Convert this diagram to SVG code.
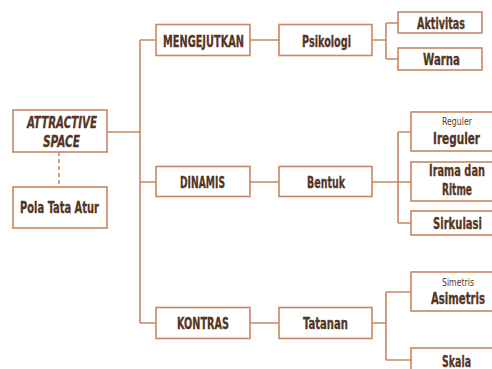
<svg xmlns="http://www.w3.org/2000/svg" width="492" height="369" viewBox="0 0 492 369">
<style>
.b{fill:#fff;stroke:#c98662;stroke-width:1.6}
.c{fill:none;stroke:#c98662;stroke-width:1.6}
.t{font-family:"Liberation Sans Narrow","DejaVu Sans Condensed","Liberation Sans",sans-serif;font-weight:bold;fill:#55351f;stroke:#55351f;stroke-width:0.3;text-anchor:middle;font-size:16.5px}
.s{font-size:10px;font-weight:normal;stroke-width:0}
.i{font-style:italic}
</style>
<rect width="492" height="369" fill="#fff"/>
<g id="connectors">
<path class="c" d="M107,132H140M140,40V323M140,40H156M140,182H156M140,323H156"/>
<path class="c" d="M59,152V187" stroke-dasharray="4,3"/>
<path class="c" d="M250,40H279M250,182H279M250,323H279"/>
<path class="c" d="M372,40H386M386,23V59M386,23H398M386,59H398"/>
<path class="c" d="M372,182H411M398,132V223M398,132H411M398,223H411"/>
<path class="c" d="M372,323H386M386,292V360M386,292H411M386,360H411"/>
</g>
<g id="attractive"><rect class="b" x="13" y="110" width="94" height="42"/><text class="t i" x="62" y="128" textLength="70" lengthAdjust="spacingAndGlyphs">ATTRACTIVE</text><text class="t i" x="61.5" y="147" textLength="37" lengthAdjust="spacingAndGlyphs">SPACE</text></g>
<g id="pola"><rect class="b" x="13" y="187" width="94" height="41"/><text class="t" x="59.5" y="213" textLength="79" lengthAdjust="spacingAndGlyphs">Pola Tata Atur</text></g>
<g id="mengejutkan"><rect class="b" x="156" y="24.5" width="94" height="31"/><text class="t" x="203.5" y="47" textLength="81" lengthAdjust="spacingAndGlyphs">MENGEJUTKAN</text></g>
<g id="dinamis"><rect class="b" x="156" y="166.5" width="94" height="30"/><text class="t" x="202.5" y="187.5" textLength="45" lengthAdjust="spacingAndGlyphs">DINAMIS</text></g>
<g id="kontras"><rect class="b" x="156" y="307.5" width="94" height="31"/><text class="t" x="203" y="329" textLength="52" lengthAdjust="spacingAndGlyphs">KONTRAS</text></g>
<g id="psikologi"><rect class="b" x="279" y="24.5" width="93" height="31"/><text class="t" x="326.5" y="47" textLength="49" lengthAdjust="spacingAndGlyphs">Psikologi</text></g>
<g id="bentuk"><rect class="b" x="279" y="166.5" width="93" height="30"/><text class="t" x="326" y="187.5" textLength="38" lengthAdjust="spacingAndGlyphs">Bentuk</text></g>
<g id="tatanan"><rect class="b" x="279" y="307.5" width="93" height="31"/><text class="t" x="325.5" y="329" textLength="45" lengthAdjust="spacingAndGlyphs">Tatanan</text></g>
<g id="aktivitas"><rect class="b" x="398" y="12" width="84" height="21"/><text class="t" x="441" y="28.5" textLength="48" lengthAdjust="spacingAndGlyphs">Aktivitas</text></g>
<g id="warna"><rect class="b" x="398" y="48" width="84" height="22"/><text class="t" x="441.5" y="65" textLength="37" lengthAdjust="spacingAndGlyphs">Warna</text></g>
<g id="ireguler"><rect class="b" x="411" y="112" width="94" height="39"/><text class="t s" x="457" y="125" textLength="30" lengthAdjust="spacingAndGlyphs">Reguler</text><text class="t" x="456.5" y="143.5" textLength="47" lengthAdjust="spacingAndGlyphs">Ireguler</text></g>
<g id="irama"><rect class="b" x="411" y="162" width="94" height="39"/><text class="t" x="457" y="175.5" textLength="56" lengthAdjust="spacingAndGlyphs">Irama dan</text><text class="t" x="457" y="194.5" textLength="30" lengthAdjust="spacingAndGlyphs">Ritme</text></g>
<g id="sirkulasi"><rect class="b" x="411" y="211" width="94" height="24"/><text class="t" x="457.5" y="228.5" textLength="49" lengthAdjust="spacingAndGlyphs">Sirkulasi</text></g>
<g id="asimetris"><rect class="b" x="411" y="272" width="94" height="39"/><text class="t s" x="458" y="286" textLength="32" lengthAdjust="spacingAndGlyphs">Simetris</text><text class="t" x="458" y="303.5" textLength="54" lengthAdjust="spacingAndGlyphs">Asimetris</text></g>
<g id="skala"><rect class="b" x="411" y="348" width="94" height="30"/><text class="t" x="456.5" y="367" textLength="29" lengthAdjust="spacingAndGlyphs">Skala</text></g>
</svg>
